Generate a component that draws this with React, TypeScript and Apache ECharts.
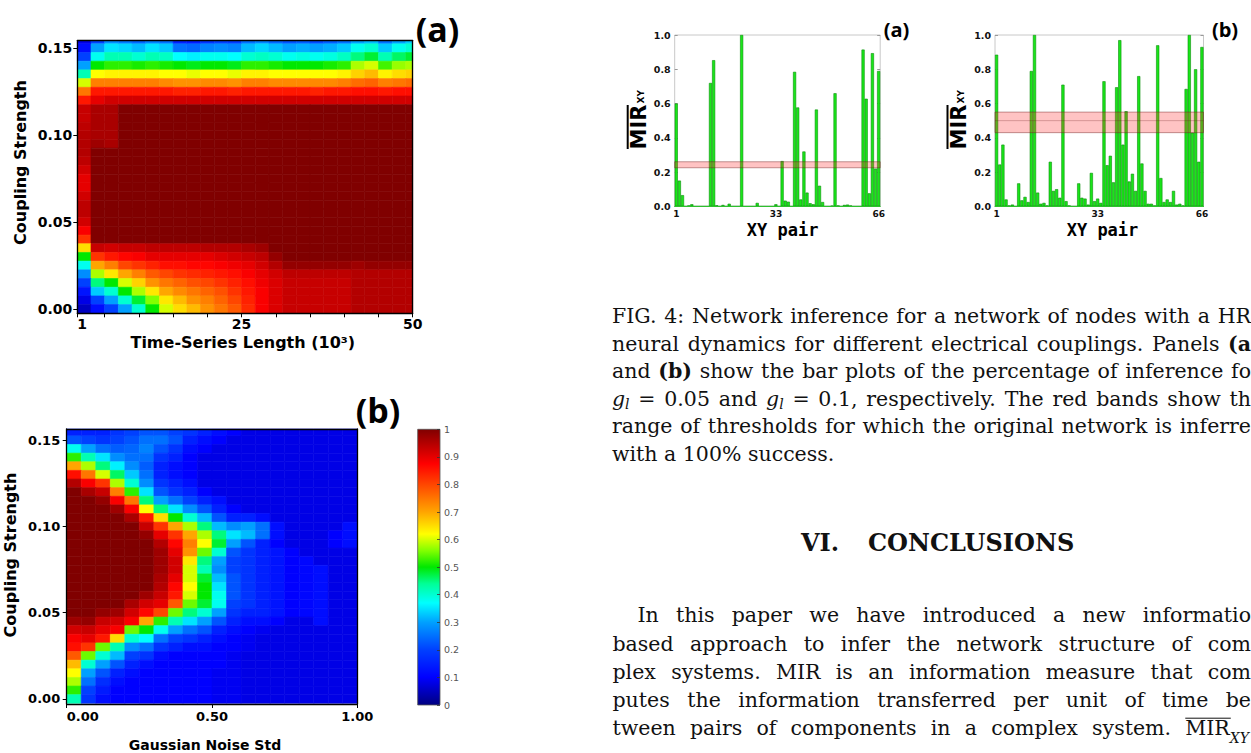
import React, { useEffect, useRef } from "react";
import * as echarts from "echarts";

// ---------------- data ----------------
const COUPLING_ROWS = [0.155, 0.15, 0.145, 0.14, 0.135, 0.13, 0.125, 0.12, 0.115, 0.11, 0.105, 0.1, 0.095, 0.09, 0.085, 0.08, 0.075, 0.07, 0.065, 0.06, 0.055, 0.05, 0.045, 0.04, 0.035, 0.03, 0.025, 0.02, 0.015, 0.01, 0.005, 0];

const LENGTH_COLS = [2, 4, 6, 8, 10, 12, 14, 16, 18, 20, 22, 24, 26, 28, 30, 32, 34, 36, 38, 40, 42, 44, 46, 48, 50];

// success percentage, rows top (0.155) -> bottom (0.000)
const SUCCESS_A: number[][] = [
  [8, 20, 28, 26, 24, 27, 25, 15, 14, 18, 20, 19, 25, 27, 24, 22, 23, 21, 23, 25, 30, 32, 25, 30, 33],
  [12, 30, 35, 34, 32, 35, 33, 25, 24, 27, 28, 27, 32, 34, 32, 30, 31, 30, 31, 33, 38, 40, 33, 38, 40],
  [20, 38, 42, 42, 40, 42, 41, 37, 36, 38, 38, 37, 40, 41, 40, 38, 39, 38, 39, 41, 45, 48, 42, 46, 48],
  [30, 50, 52, 52, 51, 52, 51, 50, 49, 50, 50, 49, 52, 52, 51, 50, 50, 50, 51, 52, 58, 60, 53, 57, 58],
  [42, 62, 63, 63, 63, 63, 62, 62, 61, 62, 62, 61, 63, 63, 62, 62, 62, 62, 62, 63, 66, 68, 63, 65, 66],
  [60, 74, 74, 74, 74, 74, 73, 72, 72, 73, 73, 72, 74, 74, 73, 73, 73, 73, 73, 74, 76, 77, 74, 75, 76],
  [75, 85, 85, 85, 85, 85, 85, 84, 84, 85, 85, 84, 85, 85, 85, 85, 85, 84, 85, 85, 86, 86, 85, 86, 86],
  [85, 90, 92, 92, 92, 92, 92, 92, 92, 92, 92, 92, 92, 92, 92, 92, 92, 92, 92, 92, 92, 92, 92, 92, 92],
  [93, 96, 96, 100, 100, 100, 100, 100, 100, 100, 100, 100, 100, 100, 100, 100, 100, 100, 100, 100, 100, 100, 100, 100, 100],
  [93, 96, 96, 100, 100, 100, 100, 100, 100, 100, 100, 100, 100, 100, 100, 100, 100, 100, 100, 100, 100, 100, 100, 100, 100],
  [94, 96, 96, 100, 100, 100, 100, 100, 100, 100, 100, 100, 100, 100, 100, 100, 100, 100, 100, 100, 100, 100, 100, 100, 100],
  [95, 96, 96, 100, 100, 100, 100, 100, 100, 100, 100, 100, 100, 100, 100, 100, 100, 100, 100, 100, 100, 100, 100, 100, 100],
  [95, 97, 96, 100, 100, 100, 100, 100, 100, 100, 100, 100, 100, 100, 100, 100, 100, 100, 100, 100, 100, 100, 100, 100, 100],
  [95, 100, 100, 100, 100, 100, 100, 100, 100, 100, 100, 100, 100, 100, 100, 100, 100, 100, 100, 100, 100, 100, 100, 100, 100],
  [94, 100, 100, 100, 100, 100, 100, 100, 100, 100, 100, 100, 100, 100, 100, 100, 100, 100, 100, 100, 100, 100, 100, 100, 100],
  [92, 100, 100, 100, 100, 100, 100, 100, 100, 100, 100, 100, 100, 100, 100, 100, 100, 100, 100, 100, 100, 100, 100, 100, 100],
  [90, 100, 100, 100, 100, 100, 100, 100, 100, 100, 100, 100, 100, 100, 100, 100, 100, 100, 100, 100, 100, 100, 100, 100, 100],
  [90, 100, 100, 100, 100, 100, 100, 100, 100, 100, 100, 100, 100, 100, 100, 100, 100, 100, 100, 100, 100, 100, 100, 100, 100],
  [92, 100, 100, 100, 100, 100, 100, 100, 100, 100, 100, 100, 100, 100, 100, 100, 100, 100, 100, 100, 100, 100, 100, 100, 100],
  [94, 100, 100, 100, 100, 100, 100, 100, 100, 100, 100, 100, 100, 100, 100, 100, 100, 100, 100, 100, 100, 100, 100, 100, 100],
  [94, 100, 100, 100, 100, 100, 100, 100, 100, 100, 100, 100, 100, 100, 100, 100, 100, 100, 100, 100, 100, 100, 100, 100, 100],
  [92, 100, 100, 100, 100, 100, 100, 100, 100, 100, 100, 100, 100, 100, 100, 100, 100, 100, 100, 100, 100, 100, 100, 100, 100],
  [88, 100, 100, 100, 100, 100, 100, 100, 100, 100, 100, 100, 100, 100, 100, 100, 100, 100, 100, 100, 100, 100, 100, 100, 100],
  [82, 100, 100, 100, 100, 100, 100, 100, 100, 100, 100, 100, 100, 100, 100, 100, 100, 100, 100, 100, 100, 100, 100, 100, 100],
  [65, 93, 92, 93, 93, 94, 94, 94, 94, 95, 95, 95, 96, 97, 100, 100, 100, 100, 100, 100, 100, 100, 100, 100, 100],
  [50, 82, 85, 87, 88, 90, 90, 90, 90, 90, 91, 92, 93, 94, 98, 100, 100, 100, 100, 100, 100, 100, 100, 100, 100],
  [38, 70, 74, 80, 82, 84, 86, 86, 87, 87, 88, 89, 90, 92, 95, 98, 98, 98, 98, 98, 97, 98, 98, 98, 98],
  [28, 58, 64, 70, 74, 78, 80, 82, 83, 84, 85, 86, 88, 90, 92, 94, 94, 94, 94, 94, 95, 95, 95, 95, 95],
  [20, 45, 50, 60, 66, 72, 75, 77, 79, 80, 82, 84, 86, 89, 91, 93, 93, 93, 93, 93, 95, 95, 95, 95, 95],
  [13, 33, 40, 50, 58, 64, 70, 73, 75, 77, 79, 82, 85, 88, 91, 93, 93, 93, 93, 93, 95, 95, 95, 95, 95],
  [8, 20, 30, 40, 48, 56, 64, 68, 72, 74, 77, 80, 84, 88, 91, 93, 93, 93, 93, 93, 95, 95, 95, 95, 95],
  [5, 12, 20, 30, 40, 50, 60, 65, 68, 72, 75, 78, 83, 88, 91, 93, 93, 93, 93, 93, 95, 95, 95, 95, 95],
];

const NOISE_COLS = [0.025, 0.075, 0.125, 0.175, 0.225, 0.275, 0.325, 0.375, 0.425, 0.475, 0.525, 0.575, 0.625, 0.675, 0.725, 0.775, 0.825, 0.875, 0.925, 0.975];

const SUCCESS_B: number[][] = [
  [15, 15, 15, 18, 20, 22, 22, 20, 18, 15, 12, 10, 8, 8, 8, 8, 8, 8, 8, 8],
  [22, 20, 18, 20, 22, 25, 25, 22, 15, 12, 10, 8, 8, 8, 8, 8, 8, 8, 8, 8],
  [38, 30, 25, 23, 24, 27, 22, 18, 12, 10, 8, 8, 8, 8, 8, 8, 8, 8, 8, 8],
  [52, 42, 35, 28, 25, 25, 18, 15, 10, 8, 8, 8, 8, 8, 8, 8, 8, 8, 8, 8],
  [70, 58, 45, 36, 28, 23, 15, 12, 10, 8, 8, 8, 8, 8, 8, 8, 8, 8, 8, 8],
  [86, 75, 60, 46, 33, 25, 15, 12, 10, 8, 8, 8, 8, 8, 8, 8, 8, 8, 8, 8],
  [95, 88, 82, 58, 40, 28, 18, 15, 12, 8, 8, 8, 8, 8, 8, 8, 8, 8, 8, 8],
  [100, 96, 93, 74, 52, 35, 22, 18, 15, 10, 8, 8, 8, 8, 8, 8, 8, 8, 8, 8],
  [100, 100, 98, 88, 75, 45, 30, 25, 20, 15, 12, 8, 8, 8, 8, 8, 8, 8, 8, 8],
  [100, 100, 100, 97, 88, 62, 45, 35, 28, 22, 15, 10, 8, 8, 8, 8, 8, 8, 8, 8],
  [100, 100, 100, 100, 96, 85, 65, 50, 40, 32, 22, 15, 15, 12, 8, 8, 8, 8, 8, 8],
  [100, 100, 100, 100, 100, 93, 82, 70, 58, 45, 32, 28, 30, 25, 12, 8, 8, 8, 8, 12],
  [100, 100, 100, 100, 100, 98, 90, 82, 70, 58, 45, 35, 32, 25, 12, 8, 8, 8, 10, 12],
  [100, 100, 100, 100, 100, 100, 95, 87, 74, 62, 48, 30, 22, 15, 10, 8, 8, 8, 10, 12],
  [100, 100, 100, 100, 100, 100, 97, 90, 72, 55, 40, 22, 18, 15, 13, 10, 8, 8, 8, 8],
  [100, 100, 100, 100, 100, 100, 97, 92, 64, 45, 30, 20, 18, 15, 13, 10, 11, 8, 8, 8],
  [100, 100, 100, 100, 100, 100, 97, 92, 60, 42, 28, 20, 18, 15, 13, 10, 11, 12, 8, 8],
  [100, 100, 100, 100, 100, 100, 96, 90, 60, 48, 32, 22, 18, 15, 13, 10, 11, 12, 8, 8],
  [100, 100, 100, 100, 100, 100, 95, 87, 62, 50, 35, 22, 18, 15, 13, 10, 11, 12, 8, 8],
  [100, 100, 100, 100, 100, 97, 93, 85, 60, 50, 38, 22, 18, 15, 13, 10, 11, 12, 8, 8],
  [100, 100, 100, 100, 96, 92, 90, 78, 55, 48, 38, 20, 18, 15, 13, 10, 11, 12, 8, 8],
  [100, 100, 98, 97, 92, 87, 80, 55, 45, 40, 30, 18, 15, 15, 13, 10, 11, 12, 8, 8],
  [97, 98, 93, 92, 88, 70, 52, 42, 35, 30, 22, 15, 12, 12, 10, 8, 8, 12, 8, 8],
  [92, 93, 90, 88, 55, 50, 38, 30, 25, 22, 15, 12, 10, 9, 8, 8, 8, 8, 8, 8],
  [88, 90, 85, 65, 40, 37, 25, 20, 18, 15, 12, 10, 9, 8, 8, 8, 8, 8, 8, 8],
  [86, 82, 55, 42, 28, 25, 18, 15, 12, 12, 10, 10, 9, 8, 8, 8, 8, 8, 8, 8],
  [78, 55, 40, 32, 20, 18, 12, 10, 10, 10, 10, 9, 8, 8, 8, 8, 8, 8, 8, 8],
  [68, 40, 30, 22, 15, 12, 10, 10, 10, 10, 10, 9, 8, 8, 8, 8, 8, 8, 8, 8],
  [62, 30, 22, 15, 12, 10, 10, 10, 10, 10, 9, 9, 8, 8, 8, 8, 8, 8, 8, 8],
  [58, 25, 17, 12, 10, 10, 10, 10, 10, 10, 9, 9, 8, 8, 8, 8, 8, 8, 8, 8],
  [52, 20, 14, 10, 10, 10, 10, 10, 10, 10, 9, 9, 8, 8, 8, 8, 8, 8, 8, 8],
  [42, 18, 12, 10, 10, 10, 10, 10, 10, 10, 9, 9, 8, 8, 8, 8, 8, 8, 8, 8],
];

const PAIRS = Array.from({ length: 66 }, (_, i) => String(i + 1));
const PAIR_LABELS = [1, 33, 66];
const MIR_A = [0.6, 0.15, 0.065, 0, 0.005, 0.012, 0, 0, 0, 0, 0, 0.72, 0.853, 0.006, 0, 0.008, 0, 0.015, 0, 0, 0, 1.0, 0, 0, 0, 0, 0.02, 0, 0, 0, 0, 0, 0.012, 0, 0.264, 0.033, 0.027, 0, 0.785, 0.577, 0.04, 0.32, 0.08, 0.018, 0.012, 0.565, 0.12, 0.025, 0, 0, 0.004, 0.66, 0.005, 0, 0.008, 0.01, 0.005, 0, 0, 0, 0.915, 0.628, 0.076, 0.894, 0.22, 0.79];
const MIR_B = [0.885, 0.244, 0.36, 0.04, 0.005, 0.01, 0, 0.134, 0.035, 0.055, 0.025, 0.79, 1.0, 0.08, 0.015, 0.02, 0.005, 0.26, 0.09, 0.1, 0.05, 0.71, 0.03, 0.005, 0, 0, 0.134, 0.05, 0.045, 0.01, 0.195, 0.03, 0.045, 0.02, 0.73, 0.24, 0.295, 0.14, 0.695, 0.97, 0.36, 0.555, 0.145, 0.19, 0.09, 0.76, 0.25, 0.09, 0.015, 0.015, 0.005, 0.94, 0.165, 0.025, 0.04, 0.025, 0.09, 0.01, 0.015, 0.005, 0.685, 1.0, 0.43, 0.8, 0.26, 0.93];
const BAND_A = [0.225, 0.26];
const BAND_B = [0.43, 0.55, 0.5];

const LENGTH_TICKS = [1, 5, 10, 15, 20, 25, 30, 35, 40, 45, 50];
const LENGTH_LABELS = [1, 25, 50];
const NOISE_LABELS = [0, 0.5, 1];
const COUPLING_LABELS = [0, 0.05, 0.1, 0.15];

// jet-like colour map of the reference colour bar
const JET: [number, number[]][] = [
  [0, [0, 0, 128]], [0.1, [0, 0, 255]], [0.2, [0, 64, 255]], [0.3, [0, 160, 255]],
  [0.37, [0, 255, 255]], [0.44, [0, 255, 150]], [0.5, [0, 232, 0]], [0.56, [130, 255, 0]],
  [0.62, [255, 255, 0]], [0.7, [255, 165, 0]], [0.8, [255, 70, 0]], [0.875, [255, 0, 0]], [1, [128, 0, 0]],
];

// ---------------- texts ----------------
const CAPTION_LINES = [
  "FIG. 4: Network inference for a network of nodes with a HR",
  "neural dynamics for different electrical couplings. Panels **(a",
  "and **(b) show the bar plots of the percentage of inference fo",
  "~g_l = 0.05 and ~g_l = 0.1, respectively. The red bands show th",
  "range of thresholds for which the original network is inferre",
  "with a 100% success.",
];
const PARA_LINES = [
  "In this paper we have introduced a new informatio",
  "based approach to infer the network structure of com",
  "plex systems. MIR is an information measure that com",
  "putes the information transferred per unit of time be",
  "tween pairs of components in a complex system. ^MIR_XY",
];

const SERIF = '"DejaVu Serif", "Liberation Serif", serif';
const SANS = '"DejaVu Sans", sans-serif';
const BODY = 20.5;
const SUB = 14;

type Kind = "n" | "b" | "i" | "sub";
const PART_STYLE: Record<Kind, { fontSize: number; fontWeight: string; fontStyle: string }> = {
  n: { fontSize: BODY, fontWeight: "normal", fontStyle: "normal" },
  b: { fontSize: BODY, fontWeight: "bold", fontStyle: "normal" },
  i: { fontSize: BODY, fontWeight: "normal", fontStyle: "italic" },
  sub: { fontSize: SUB, fontWeight: "normal", fontStyle: "italic" },
};

function cssFont(k: Kind) {
  const s = PART_STYLE[k];
  return `${s.fontStyle} ${s.fontWeight} ${s.fontSize}px ${SERIF}`;
}

function parseWord(raw: string) {
  let w = raw;
  let over = false, bold = false, ital = false;
  if (w.startsWith("^")) { over = true; w = w.slice(1); }
  if (w.startsWith("**")) { bold = true; w = w.slice(2); }
  if (w.startsWith("~")) { ital = true; w = w.slice(1); }
  const idx = w.indexOf("_");
  const base = idx >= 0 ? w.slice(0, idx) : w;
  const sub = idx >= 0 ? w.slice(idx + 1) : "";
  const parts: { t: string; k: Kind }[] = [{ t: base, k: bold ? "b" : ital ? "i" : "n" }];
  if (sub) parts.push({ t: sub, k: "sub" });
  return { parts, over, subDy: over ? 10 : 5 };
}

function layoutText(lines: string[], xs: number[], ys: number[], rights: (number | null)[], out: any[]) {
  const ctx = document.createElement("canvas").getContext("2d") as CanvasRenderingContext2D;
  const meas = (t: string, k: Kind) => { ctx.font = cssFont(k); return ctx.measureText(t).width; };
  lines.forEach((line, li) => {
    const words = line.split(" ").map(parseWord);
    const widths = words.map((w) => w.parts.reduce((s, p) => s + meas(p.t, p.k), 0));
    const total = widths.reduce((a, b) => a + b, 0);
    const R = rights[li];
    const gap = R != null && words.length > 1 ? (R - xs[li] - total) / (words.length - 1) : meas(" ", "n");
    let x = xs[li];
    words.forEach((w, wi) => {
      let px = x;
      w.parts.forEach((p) => {
        const st = PART_STYLE[p.k];
        out.push({
          type: "text", silent: true, x: px, y: ys[li] + (p.k === "sub" ? w.subDy : 0),
          style: { text: p.t, fontFamily: SERIF, fontSize: st.fontSize, fontWeight: st.fontWeight, fontStyle: st.fontStyle, fill: "#111", align: "left", verticalAlign: "middle" },
        });
        px += meas(p.t, p.k);
      });
      if (w.over) {
        const bw = meas(w.parts[0].t, w.parts[0].k);
        out.push({ type: "line", silent: true, shape: { x1: x, y1: ys[li] - 10, x2: x + bw + 1, y2: ys[li] - 10 }, style: { stroke: "#111", lineWidth: 1 } });
      }
      x += widths[wi] + gap;
    });
  });
}

// ---------------- helpers ----------------
function jet(v: number): string {
  const t = Math.max(0, Math.min(1, v));
  for (let i = 1; i < JET.length; i++) {
    const [p0, c0] = JET[i - 1];
    const [p1, c1] = JET[i];
    if (t <= p1) {
      const f = (t - p0) / (p1 - p0);
      const c = c0.map((a, k) => Math.round(a + (c1[k] - a) * f));
      return `rgb(${c[0]},${c[1]},${c[2]})`;
    }
  }
  return "rgb(128,0,0)";
}

function cellEdges(c: number[]): [number, number][] {
  const n = c.length;
  return c.map((v, i) => {
    const a = i > 0 ? (c[i - 1] + v) / 2 : v - (c[1] - c[0]) / 2;
    const b = i < n - 1 ? (v + c[i + 1]) / 2 : v + (c[n - 1] - c[n - 2]) / 2;
    return [Math.min(a, b), Math.max(a, b)] as [number, number];
  });
}

function heatCells(xs: number[], ys: number[], pct: number[][]) {
  const ex = cellEdges(xs);
  const ey = cellEdges(ys);
  const out: number[][] = [];
  pct.forEach((row, r) => row.forEach((p, c) => out.push([ex[c][0], ex[c][1], ey[r][0], ey[r][1], p / 100])));
  return out;
}

const heatRender = (params: any, api: any) => {
  const a = api.coord([api.value(0), api.value(3)]);
  const b = api.coord([api.value(1), api.value(2)]);
  const cs = params.coordSys;
  const shape = echarts.graphic.clipRectByRect(
    { x: a[0], y: a[1], width: b[0] - a[0], height: b[1] - a[1] },
    { x: cs.x, y: cs.y, width: cs.width, height: cs.height }
  );
  if (!shape) return null;
  const fill = jet(api.value(4));
  return { type: "rect", shape, style: { fill, stroke: fill, lineWidth: 0.6 } };
};

const colorbarRender = (params: any, api: any) => {
  const a = api.coord([0, api.value(1)]);
  const b = api.coord([1, api.value(0)]);
  const stops = JET.map(([p, c]) => ({ offset: 1 - p, color: `rgb(${c[0]},${c[1]},${c[2]})` })).reverse();
  return {
    type: "rect",
    shape: { x: a[0], y: a[1], width: b[0] - a[0], height: b[1] - a[1] },
    style: { fill: new echarts.graphic.LinearGradient(0, 0, 0, 1, stops), stroke: "#555", lineWidth: 0.8 },
  };
};

const bandRender = (params: any, api: any) => {
  const cs = params.coordSys;
  const yTop = api.coord([0, api.value(2)])[1];
  const yBot = api.coord([0, api.value(1)])[1];
  const children: any[] = [{
    type: "rect", shape: { x: cs.x, y: yTop, width: cs.width, height: yBot - yTop },
    style: { fill: "rgba(255,40,40,0.28)", stroke: "rgba(110,30,30,0.55)", lineWidth: 0.8 },
  }];
  const mid = api.value(3);
  if (typeof mid === "number" && Number.isFinite(mid)) {
    const ym = api.coord([0, mid])[1];
    children.push({ type: "line", shape: { x1: cs.x, y1: ym, x2: cs.x + cs.width, y2: ym }, style: { stroke: "rgba(110,30,30,0.35)", lineWidth: 0.8 } });
  }
  return { type: "group", children };
};

const blackLine = { show: true, onZero: false, lineStyle: { color: "#000", width: 1.3 } };
const boldLabel = (size: number) => ({ fontSize: size, fontWeight: "bold" as const, fontFamily: SANS, color: "#000" });

function barAxes(grid: number) {
  const x = {
    gridIndex: grid, type: "category", data: PAIRS, boundaryGap: true, z: 4,
    axisLine: { show: true, onZero: false, lineStyle: { color: "#2fbf2f", width: 1.2 } },
    axisTick: { show: false },
    axisLabel: { interval: (i: number) => PAIR_LABELS.includes(i + 1), fontSize: 9, fontWeight: "bold", fontFamily: SANS, color: "#111", margin: 3 },
    splitLine: { show: false },
  };
  const yl = {
    gridIndex: grid, type: "value", min: 0, max: 1, interval: 0.2, position: "left",
    axisLine: { show: false, onZero: false },
    axisTick: { show: true, inside: true, length: 3, lineStyle: { color: "#999" } },
    axisLabel: { formatter: (v: number) => v.toFixed(1), fontSize: 9.5, fontWeight: "bold", fontFamily: SANS, color: "#111", margin: 4 },
    splitLine: { show: false },
  };
  const yr = {
    gridIndex: grid, type: "value", min: 0, max: 1, interval: 0.2, position: "right",
    axisLine: { show: false, onZero: false },
    axisTick: { show: true, inside: true, length: 3, lineStyle: { color: "#999" } },
    axisLabel: { show: false }, splitLine: { show: false },
  };
  return { x, yl, yr };
}

function mirLabel(cx: number, cy: number) {
  return {
    type: "group", x: cx, y: cy, rotation: Math.PI / 2, silent: true,
    children: [
      { type: "text", x: 0, y: 0, style: { text: "MIR", fontFamily: SANS, fontWeight: "bold", fontSize: 21, fill: "#000", align: "center", verticalAlign: "middle" } },
      { type: "line", shape: { x1: -22, y1: -11, x2: 22, y2: -11 }, style: { stroke: "#000", lineWidth: 2 } },
      { type: "text", x: 23.5, y: 2.5, style: { text: "XY", fontFamily: SANS, fontWeight: "bold", fontSize: 9, fill: "#000", align: "left", verticalAlign: "middle" } },
    ],
  };
}

function buildOption() {
  const A = barAxes(3);
  const B = barAxes(4);

  const graphics: any[] = [
    // panel letters
    { type: "text", silent: true, x: 437.5, y: 29, style: { text: "(a)", fontFamily: '"Open Sans", sans-serif', fontWeight: "bold", fontSize: 34, fill: "#000", align: "center", verticalAlign: "middle" } },
    { type: "text", silent: true, x: 378, y: 410, style: { text: "(b)", fontFamily: '"Open Sans", sans-serif', fontWeight: "bold", fontSize: 34, fill: "#000", align: "center", verticalAlign: "middle" } },
    { type: "text", silent: true, x: 896.5, y: 29, style: { text: "(a)", fontFamily: '"Open Sans", sans-serif', fontWeight: "bold", fontSize: 20, fill: "#000", align: "center", verticalAlign: "middle" } },
    { type: "text", silent: true, x: 1225, y: 29, style: { text: "(b)", fontFamily: '"Open Sans", sans-serif', fontWeight: "bold", fontSize: 20, fill: "#000", align: "center", verticalAlign: "middle" } },
    // heatmap axis titles
    { type: "text", silent: true, x: 20.8, y: 162.5, rotation: Math.PI / 2, style: { text: "Coupling Strength", ...boldLabel(16), fill: "#000", align: "center", verticalAlign: "middle" } },
    { type: "text", silent: true, x: 242.8, y: 342.5, style: { text: "Time-Series Length (10³)", ...boldLabel(16), fill: "#000", align: "center", verticalAlign: "middle" } },
    { type: "text", silent: true, x: 10.8, y: 555, rotation: Math.PI / 2, style: { text: "Coupling Strength", ...boldLabel(16), fill: "#000", align: "center", verticalAlign: "middle" } },
    { type: "text", silent: true, x: 205, y: 745, style: { text: "Gaussian Noise Std", ...boldLabel(14), fill: "#000", align: "center", verticalAlign: "middle" } },
    // bar chart axis titles
    mirLabel(638.7, 127),
    mirLabel(958.5, 127),
    { type: "text", silent: true, x: 782.7, y: 230, style: { text: "XY pair", fontFamily: '"DejaVu Sans Mono", monospace', fontWeight: "bold", fontSize: 17, fill: "#000", align: "center", verticalAlign: "middle" } },
    { type: "text", silent: true, x: 1102.5, y: 230, style: { text: "XY pair", fontFamily: '"DejaVu Sans Mono", monospace', fontWeight: "bold", fontSize: 17, fill: "#000", align: "center", verticalAlign: "middle" } },
    // section heading
    { type: "text", silent: true, x: 801, y: 542.4, style: { text: "VI.", fontFamily: SERIF, fontWeight: "bold", fontSize: 24, fill: "#111", align: "left", verticalAlign: "middle" } },
    { type: "text", silent: true, x: 868, y: 542.4, style: { text: "CONCLUSIONS", fontFamily: SERIF, fontWeight: "bold", fontSize: 24, fill: "#111", align: "left", verticalAlign: "middle" } },
  ];

  layoutText(
    CAPTION_LINES,
    [612, 612, 612, 612, 612, 612],
    [316.2, 343.6, 371.2, 398.9, 426.2, 453.6],
    [1251, 1251, 1251, 1251, 1251, null],
    graphics
  );
  layoutText(
    PARA_LINES,
    [637.4, 612.5, 612.5, 612.5, 612.5],
    [614.6, 643.6, 671.9, 699.6, 728.2],
    [1251, 1251, 1251, 1251, 1249],
    graphics
  );

  return {
    animation: false,
    backgroundColor: "#fff",
    textStyle: { fontFamily: SANS },
    grid: [
      { left: 77.3, top: 40.7, width: 335.4, height: 272.6 },
      { left: 66.7, top: 429, width: 290.6, height: 275 },
      { left: 417.7, top: 429.3, width: 22.3, height: 275.7 },
      { left: 674.7, top: 35, width: 205.5, height: 171.3, show: true, borderColor: "#c8c8c8", borderWidth: 1 },
      { left: 995, top: 35, width: 208.5, height: 171.3, show: true, borderColor: "#c8c8c8", borderWidth: 1 },
    ],
    xAxis: [
      {
        gridIndex: 0, type: "value", min: 1, max: 50, position: "bottom", z: 10,
        axisLine: blackLine, splitLine: { show: false },
        axisTick: { show: true, inside: false, length: 4, customValues: LENGTH_TICKS, lineStyle: { color: "#000", width: 1 } },
        axisLabel: { ...boldLabel(14), margin: 4, customValues: LENGTH_LABELS, alignMinLabel: "left", formatter: (v: number) => String(v) },
      },
      { gridIndex: 0, type: "value", min: 1, max: 50, position: "top", z: 10, axisLine: blackLine, axisTick: { show: false }, axisLabel: { show: false }, splitLine: { show: false } },
      {
        gridIndex: 1, type: "value", min: 0, max: 1, position: "bottom", z: 10,
        axisLine: blackLine, splitLine: { show: false },
        axisTick: { show: true, inside: false, length: 4, customValues: NOISE_LABELS, lineStyle: { color: "#000", width: 1 } },
        axisLabel: { ...boldLabel(13), margin: 6, customValues: NOISE_LABELS, alignMinLabel: "left", formatter: (v: number) => v.toFixed(2) },
      },
      { gridIndex: 1, type: "value", min: 0, max: 1, position: "top", z: 10, axisLine: blackLine, axisTick: { show: false }, axisLabel: { show: false }, splitLine: { show: false } },
      { gridIndex: 2, type: "value", min: 0, max: 1, show: false },
      A.x,
      B.x,
    ],
    yAxis: [
      {
        gridIndex: 0, type: "value", min: -0.0025, max: 0.1543, position: "left", z: 10,
        axisLine: blackLine, splitLine: { show: false },
        axisTick: { show: true, inside: false, length: 4, customValues: COUPLING_LABELS, lineStyle: { color: "#000", width: 1 } },
        axisLabel: { ...boldLabel(14), margin: 5, customValues: COUPLING_LABELS, formatter: (v: number) => v.toFixed(2) },
      },
      { gridIndex: 0, type: "value", min: -0.0025, max: 0.1543, position: "right", z: 10, axisLine: blackLine, axisTick: { show: false }, axisLabel: { show: false }, splitLine: { show: false } },
      {
        gridIndex: 1, type: "value", min: -0.0029, max: 0.1565, position: "left", z: 10,
        axisLine: blackLine, splitLine: { show: false },
        axisTick: { show: true, inside: false, length: 4, customValues: COUPLING_LABELS, lineStyle: { color: "#000", width: 1 } },
        axisLabel: { ...boldLabel(13), margin: 6.5, customValues: COUPLING_LABELS, formatter: (v: number) => v.toFixed(2) },
      },
      { gridIndex: 1, type: "value", min: -0.0029, max: 0.1565, position: "right", z: 10, axisLine: blackLine, axisTick: { show: false }, axisLabel: { show: false }, splitLine: { show: false } },
      {
        gridIndex: 2, type: "value", min: 0, max: 1, interval: 0.1, position: "right", z: 10,
        axisLine: { show: false, onZero: false }, splitLine: { show: false },
        axisTick: { show: true, inside: true, length: 3, lineStyle: { color: "#333", width: 0.8 } },
        axisLabel: { color: "#555", fontSize: 9.5, fontFamily: SANS, margin: 4, formatter: (v: number) => String(Math.round(v * 10) / 10) },
      },
      A.yl, A.yr, B.yl, B.yr,
    ],
    series: [
      { type: "custom", xAxisIndex: 0, yAxisIndex: 0, renderItem: heatRender, data: heatCells(LENGTH_COLS, COUPLING_ROWS, SUCCESS_A), encode: { x: [0, 1], y: [2, 3] }, silent: true, z: 2 },
      { type: "custom", xAxisIndex: 2, yAxisIndex: 2, renderItem: heatRender, data: heatCells(NOISE_COLS, COUPLING_ROWS, SUCCESS_B), encode: { x: [0, 1], y: [2, 3] }, silent: true, z: 2 },
      { type: "custom", xAxisIndex: 4, yAxisIndex: 4, renderItem: colorbarRender, data: [[0, 1]], silent: true, z: 2 },
      {
        type: "bar", xAxisIndex: 5, yAxisIndex: 5, data: MIR_A, barCategoryGap: "0%", silent: true, z: 2,
        itemStyle: { color: "#19e619", borderColor: "#0c8f0c", borderWidth: 0.6 },
      },
      { type: "custom", xAxisIndex: 5, yAxisIndex: 5, renderItem: bandRender, data: [[0, BAND_A[0], BAND_A[1]]], encode: { x: 0, y: [1, 2] }, silent: true, z: 5 },
      {
        type: "bar", xAxisIndex: 6, yAxisIndex: 7, data: MIR_B, barCategoryGap: "0%", silent: true, z: 2,
        itemStyle: { color: "#19e619", borderColor: "#0c8f0c", borderWidth: 0.6 },
      },
      { type: "custom", xAxisIndex: 6, yAxisIndex: 7, renderItem: bandRender, data: [[0, BAND_B[0], BAND_B[1], BAND_B[2]]], encode: { x: 0, y: [1, 2] }, silent: true, z: 5 },
    ],
    graphic: graphics,
  };
}

export default function App() {
  const ref = useRef<HTMLDivElement>(null);
  useEffect(() => {
    if (!ref.current) return;
    const chart = echarts.init(ref.current, undefined, { renderer: "svg" });
    chart.setOption(buildOption() as any);
    return () => chart.dispose();
  }, []);
  return <div ref={ref} style={{ position: "absolute", left: 0, top: 0, width: 1251, height: 753, background: "#fff" }} />;
}
